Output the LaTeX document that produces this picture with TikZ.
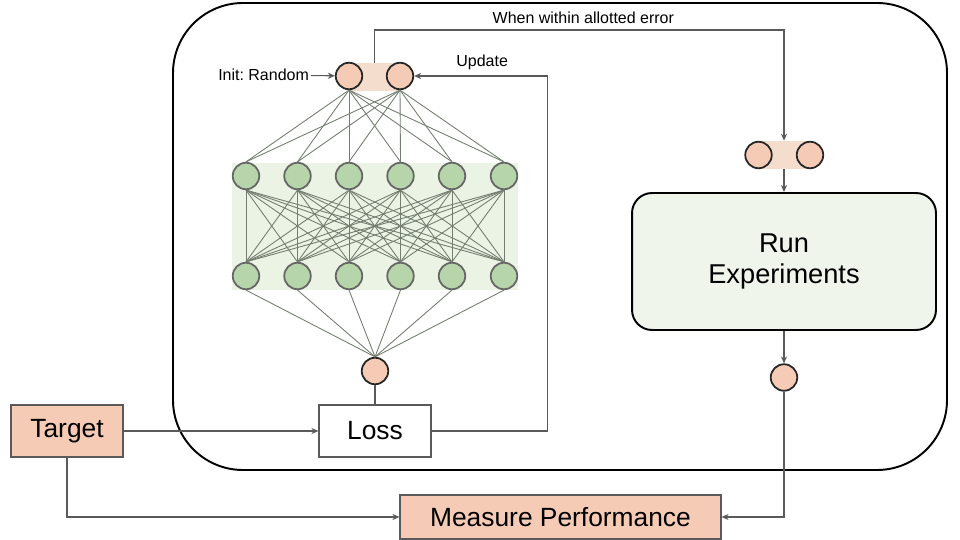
\documentclass[tikz,border=0pt]{standalone}
\usepackage{fontspec}
\setmainfont{Liberation Sans}
\usetikzlibrary{arrows.meta,positioning}
\definecolor{peach}{HTML}{F6CBB5}
\definecolor{peachband}{HTML}{F5DDCD}
\definecolor{leaf}{HTML}{B7D5AA}
\definecolor{leafbg}{HTML}{EBF3E4}
\definecolor{runbg}{HTML}{EFF5EA}
\definecolor{wire}{HTML}{5A5A5A}
\definecolor{synapse}{HTML}{737D70}
\frenchspacing
\tikzset{
    neuron/.style={circle, draw=black!85, fill=peach, line width=1pt, minimum size=5.3mm, inner sep=0pt},
    hidden/.style={neuron, draw=black!60, fill=leaf},
    block/.style={draw=wire, line width=0.7pt, minimum width=2.24cm, minimum height=1.04cm, font=\fontsize{15}{18}\selectfont},
    edge/.style={draw=wire, line width=0.6pt, -{Stealth[length=4pt,width=3.5pt]}},
    link/.style={draw=wire, line width=0.6pt},
    syn/.style={draw=synapse, line width=0.5pt},
    caption/.style={font=\fontsize{9.1}{11}\selectfont}
}

\begin{document}
\begin{tikzpicture}[x=0.02cm, y=-0.02cm]
    \useasboundingbox (0,0) rectangle (960,540);

    % frame
    \draw[line width=1.1pt, rounded corners=1.4cm] (173,3) rectangle (947,470);

    % backgrounds
    \node[fill=peachband, minimum width=1.04cm, minimum height=0.56cm, inner sep=0pt] (topband) at (374.5,77) {};
    \node[fill=peachband, minimum width=1.04cm, minimum height=0.56cm, inner sep=0pt] (outband) at (784,155) {};
    \node[fill=leafbg, minimum width=5.72cm, minimum height=2.54cm, inner sep=0pt] (hiddenbg) at (375,226.5) {};

    % Nodes
    \node[neuron] (in1) at (349,76) {};
    \node[neuron] (in2) at (400,76) {};
    \foreach \i/\x in {1/246,2/297.5,3/349,4/400.5,5/452,6/504} {
        \node[hidden] (a\i) at (\x,176) {};
        \node[hidden] (b\i) at (\x,276) {};
    }
    \node[neuron] (yhat) at (375,371) {};
    \node[caption, anchor=east, inner sep=1pt] (init) at (311,75) {Init: Random};

    \node[block, fill=peach] (target) at (67,431) {Target};
    \node[block, fill=white] (loss) at (375,431) {Loss};
    \node[block, fill=peach, minimum width=6.42cm, minimum height=0.88cm] (mp) at (560.5,517) {Measure Performance};

    \node[neuron] (w1) at (758.5,155) {};
    \node[neuron] (w2) at (810,155) {};
    \node[draw=black, line width=1.1pt, fill=runbg, rounded corners=0.4cm, minimum width=6.08cm, minimum height=2.74cm,
          align=center, font=\fontsize{15.5}{18}\selectfont] (run) at (784,261.5) {Run\\Experiments};
    \node[neuron] (res) at (784,377.5) {};

    \coordinate (upd) at (547.5,76);
    \coordinate (tr) at (784,30);

    % synapses
    \foreach \i in {1,2} {
        \foreach \j in {1,...,6} {
            \draw[syn] (in\i.south) -- (a\j.north);
        }
    }
    \foreach \i in {1,...,6} {
        \foreach \j in {1,...,6} {
            \draw[syn] (a\i.south) -- (b\j.north);
        }
        \draw[syn] (b\i.south) -- (yhat.north);
    }

    % edges
    \draw[edge] (init) -- (in1);
    \draw[edge] (loss.east) -| (upd) -- node[caption, above, pos=0.49] {Update} (in2.east);
    \draw[edge] (topband.north) |- node[caption, above, pos=0.755] {When within allotted error} (tr) -- (outband.north);
    \draw[link] (yhat.south) -- (loss.north);
    \draw[edge] (target) -- (loss);
    \draw[edge] (target.south) |- (mp.west);
    \draw[edge] (outband.south) -- (run.north);
    \draw[edge] (run.south) -- (res.north);
    \draw[edge] (res.south) |- (mp.east);
\end{tikzpicture}
\end{document}
